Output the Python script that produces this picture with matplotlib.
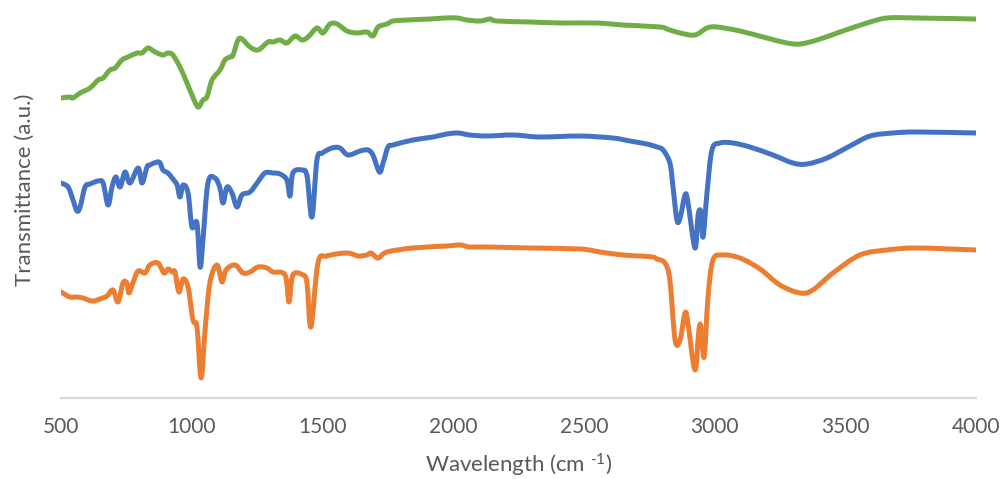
import matplotlib
matplotlib.use("Agg")
import matplotlib.pyplot as plt
import numpy as np
from matplotlib.path import Path
from matplotlib.patches import PathPatch

plt.rcParams["font.family"] = ["Lato", "DejaVu Sans"]
plt.rcParams["mathtext.fontset"] = "custom"
plt.rcParams["mathtext.rm"] = "Lato"
plt.rcParams["mathtext.it"] = "Lato"

# FTIR spectra (wavenumber in cm-1, transmittance in arbitrary offset units)
green_wn = [500, 534, 546, 573, 611, 642, 661, 687, 707, 733, 756, 791, 810, 833, 860,
            890, 909, 928, 955, 982, 1001, 1024, 1043, 1058, 1078, 1108, 1127, 1146, 1158,
            1177, 1192, 1223, 1254, 1292, 1311, 1338, 1364, 1395, 1422, 1445, 1479, 1502,
            1529, 1556, 1594, 1632, 1670, 1693, 1713, 1747, 1770, 1823, 1911, 1969, 2015,
            2053, 2103, 2141, 2168, 2294, 2420, 2550, 2650, 2791, 2818, 2868, 2925, 2971,
            3009, 3097, 3200, 3277, 3327, 3392, 3480, 3583, 3660, 3774, 4000]
green_t = [300, 301, 300, 305, 310, 318, 320, 328, 330, 338, 341, 345, 345, 350, 346,
           343, 345, 343, 331, 315, 303, 291, 298, 301, 318, 328, 338, 341, 343,
           358, 359, 351, 348, 356, 356, 358, 355, 362, 358, 361, 370, 365,
           374, 374, 367, 365, 366, 362, 371, 374, 377, 378, 379, 380, 380,
           378, 377, 379, 377, 376, 375, 375, 373, 371, 369, 365, 363, 370,
           371, 367, 360, 355, 354, 358, 366, 375, 380, 380, 379]

blue_wn = [500, 527, 546, 561, 573, 592, 611, 642, 661, 680, 695, 710, 726, 745, 764,
           795, 810, 829, 840, 867, 879, 890, 909, 925, 944, 955, 967, 986, 1001, 1020,
           1032, 1043, 1062, 1089, 1108, 1120, 1135, 1154, 1173, 1192, 1223, 1250, 1280,
           1311, 1338, 1364, 1376, 1387, 1422, 1441, 1460, 1479, 1500, 1537, 1567, 1598,
           1644, 1674, 1693, 1718, 1732, 1751, 1770, 1846, 1923, 1976, 2019, 2064, 2129,
           2229, 2332, 2485, 2611, 2676, 2741, 2780, 2803, 2829, 2841, 2856, 2868, 2887,
           2898, 2925, 2937, 2948, 2956, 2971, 2990, 3021, 3070, 3135, 3223, 3300, 3353,
           3430, 3518, 3595, 3682, 3774, 4000]
blue_t = [215, 211, 198, 187, 191, 211, 214, 217, 215, 193, 211, 221, 211, 226, 215,
          230, 215, 231, 233, 236, 235, 228, 225, 220, 213, 201, 213, 205, 171, 175,
          131, 158, 215, 220, 210, 195, 211, 205, 191, 203, 206, 215, 225,
          225, 224, 218, 202, 225, 228, 222, 181, 238, 245, 250, 250, 243,
          247, 248, 243, 226, 235, 251, 253, 258, 261, 264, 265, 263, 262,
          263, 261, 262, 260, 257, 254, 251, 248, 235, 211, 178, 180, 203,
          196, 150, 183, 186, 161, 205, 248, 255, 255, 251, 243, 235, 234,
          240, 252, 262, 265, 266, 265]

orange_wn = [500, 534, 561, 584, 619, 649, 676, 699, 718, 737, 752, 760, 775, 795, 821,
             840, 871, 894, 909, 925, 936, 951, 967, 986, 1005, 1020, 1036, 1051, 1070,
             1097, 1116, 1131, 1166, 1196, 1223, 1254, 1288, 1311, 1357, 1372, 1387, 1426,
             1441, 1456, 1483, 1517, 1594, 1636, 1670, 1686, 1713, 1747, 1846, 1976, 2026,
             2064, 2129, 2294, 2485, 2562, 2650, 2715, 2764, 2780, 2810, 2829, 2849, 2868,
             2887, 2898, 2925, 2940, 2948, 2960, 2975, 2994, 3032, 3097, 3174, 3250, 3327,
             3376, 3453, 3556, 3660, 3774, 4000]
orange_t = [106, 101, 101, 100, 97, 99, 102, 108, 96, 115, 115, 105, 115, 127, 125,
            133, 135, 125, 129, 126, 126, 106, 119, 111, 78, 71, 20, 68, 116,
            133, 116, 128, 133, 125, 126, 131, 130, 126, 123, 96, 123, 123,
            115, 71, 135, 142, 145, 142, 143, 145, 140, 146, 150, 152, 153,
            151, 151, 150, 149, 146, 143, 142, 141, 139, 135, 118, 58, 58,
            85, 75, 28, 68, 71, 41, 101, 138, 143, 140, 129, 113, 105,
            108, 125, 143, 148, 150, 148]

x_ticks = [500, 1000, 1500, 2000, 2500, 3000, 3500, 4000]


def smooth_path(x, y):
    """Cubic Bezier path through the points (Catmull-Rom style smoothed line)."""
    p = np.column_stack([x, y]).astype(float)
    ext = np.vstack([p[0], p, p[-1]])
    verts = [p[0]]
    codes = [Path.MOVETO]
    for i in range(len(p) - 1):
        p0, p1, p2, p3 = ext[i], ext[i + 1], ext[i + 2], ext[i + 3]
        c1 = p1 + (p2 - p0) / 6.0
        c2 = p2 - (p3 - p1) / 6.0
        verts += [c1, c2, p2]
        codes += [Path.CURVE4] * 3
    return Path(verts, codes)


fig = plt.figure(figsize=(10.02, 4.79), dpi=100)
ax = fig.add_axes([61 / 1002, 81 / 479, 915 / 1002, 398 / 479])

for wn, t, color in [(orange_wn, orange_t, "#ED7D31"),
                     (blue_wn, blue_t, "#4472C4"),
                     (green_wn, green_t, "#70AD47")]:
    ax.add_patch(PathPatch(smooth_path(wn, t), fill=False, edgecolor=color,
                           lw=3.6, joinstyle="round", capstyle="round"))

ax.set_xlim(500, 4000)
ax.set_ylim(0, 398)
ax.set_xticks(x_ticks)
ax.set_xticklabels([str(t) for t in x_ticks])
ax.set_yticks([])
for side in ("top", "right", "left"):
    ax.spines[side].set_visible(False)
ax.spines["bottom"].set_color("#D9D9D9")
ax.spines["bottom"].set_linewidth(1.5)
ax.tick_params(axis="x", length=0, pad=14, labelsize=15, labelcolor="#595959")

fig.text(0.5 * (61 + 976) / 1002, 1 - 465 / 479, r"Wavelength (cm $^{\text{-}1}$)",
         ha="center", va="center", fontsize=16, color="#595959")
fig.text(25 / 1002, 1 - 190 / 479, "Transmittance (a.u.)", rotation=90,
         ha="center", va="center", fontsize=16, color="#595959")

fig.savefig("out.png", dpi=100, facecolor="white")
